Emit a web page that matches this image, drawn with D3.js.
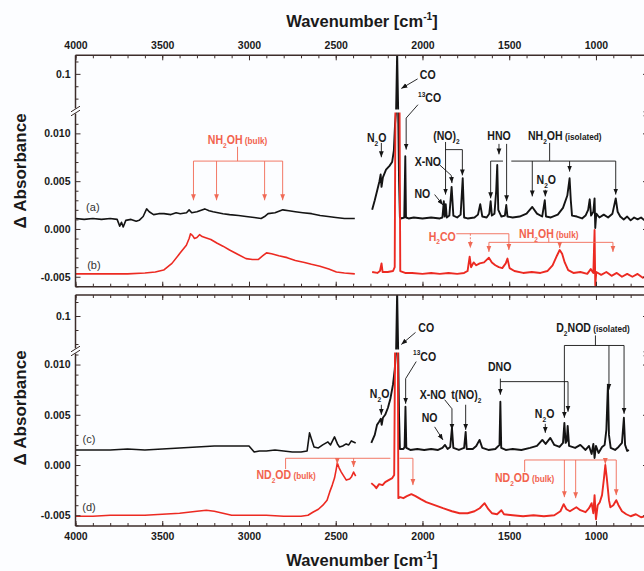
<!DOCTYPE html>
<html>
<head>
<meta charset="utf-8">
<script src="https://cdn.jsdelivr.net/npm/d3@7/dist/d3.min.js"></script>
<style>
  body { margin: 0; background: #fcfdff; }
  text { font-family: "Liberation Sans", Arial, Helvetica, sans-serif; }
</style>
</head>
<body>
<svg id="chart"></svg>
<script>
// ---- data (wavenumber cm-1, delta absorbance) ----
const xMajorTicks = [4000, 3500, 3000, 2500, 2000, 1500, 1000];
const xMinorTicks = d3.range(4000, 699, -100);
const yLowTicks = [-0.005, 0.000, 0.005, 0.010];
const yLowMinor = [-0.006, -0.004, -0.003, -0.002, -0.001, 0.001, 0.002, 0.003, 0.004, 0.006, 0.007, 0.008, 0.009, 0.011];
const yHighTicks = [0.1];
const yHighMinor = [0.06, 0.08, 0.12];

// (a) NH2OH sample, black, top panel
const specA1 = [[4000,0.0011],[3950,0.0010],[3900,0.0011],[3850,0.0010],[3800,0.0011],[3760,0.0010],[3745,0.0003],[3735,0.0007],[3725,0.0002],[3710,0.0009],[3680,0.0010],[3650,0.0008],[3633,0.0009],[3610,0.0013],[3590,0.0021],[3575,0.0018],[3550,0.0015],[3520,0.0016],[3490,0.0016],[3450,0.0015],[3420,0.0017],[3396,0.0016],[3360,0.0017],[3345,0.0020],[3330,0.0017],[3300,0.0018],[3255,0.0021],[3230,0.0019],[3207,0.0018],[3150,0.0016],[3112,0.0015],[3060,0.0014],[3017,0.0013],[2970,0.0012],[2930,0.0011],[2910,0.0013],[2890,0.0016],[2850,0.0017],[2805,0.0020],[2770,0.0019],[2733,0.0018],[2690,0.0017],[2639,0.0016],[2590,0.0014],[2544,0.0013],[2500,0.0012],[2450,0.0011],[2390,0.0011]];
const specA2 = [[2290,0.0020],[2275,0.0030],[2260,0.0041],[2248,0.0050],[2241,0.0057],[2236,0.0044],[2228,0.0054],[2210,0.0062],[2190,0.0066],[2175,0.0070],[2165,0.0082],[2158,0.0110],[2152,0.03],[2146,0.135],[2140,0.03],[2135,0.0050],[2130,0.0012],[2120,0.0011],[2105,0.0012],[2099,0.0076],[2095,0.0012],[2080,0.0011],[2050,0.0012],[2000,0.0011],[1950,0.0012],[1900,0.0011],[1885,0.0012],[1877,0.0029],[1872,0.0013],[1866,0.0026],[1860,0.0012],[1845,0.0014],[1832,0.0044],[1822,0.0014],[1800,0.0012],[1780,0.0015],[1768,0.0053],[1760,0.0012],[1740,0.0011],[1700,0.0012],[1680,0.0015],[1667,0.0026],[1655,0.0013],[1630,0.0012],[1615,0.0016],[1607,0.0029],[1600,0.0014],[1585,0.0016],[1575,0.0040],[1569,0.0067],[1563,0.0020],[1545,0.0013],[1525,0.0014],[1517,0.0025],[1510,0.0013],[1480,0.0012],[1440,0.0013],[1400,0.0016],[1367,0.0023],[1340,0.0016],[1310,0.0013],[1295,0.0030],[1288,0.0013],[1260,0.0012],[1220,0.0015],[1190,0.0022],[1165,0.0035],[1152,0.0053],[1145,0.0030],[1138,0.0014],[1110,0.0013],[1080,0.0011],[1060,0.0014],[1045,0.0020],[1036,0.0031],[1028,0.0014],[1015,0.0018],[1008,0.0032],[1004,0.0001],[998,0.0016],[980,0.0012],[955,0.0015],[930,0.0012],[905,0.0016],[886,0.0032],[875,0.0018],[860,0.0013],[840,0.0010],[820,0.0013],[800,0.0009],[780,0.0012],[760,0.0010],[740,0.0012],[720,0.0009],[700,0.0011]];

// (b) red, top panel
const specB1 = [[4000,-0.0047],[3900,-0.0047],[3800,-0.0047],[3700,-0.0047],[3600,-0.0046],[3540,-0.0045],[3492,-0.0043],[3444,-0.0036],[3396,-0.0025],[3361,-0.0017],[3345,-0.0010],[3337,-0.0005],[3325,-0.0007],[3314,-0.0010],[3300,-0.0009],[3285,-0.0006],[3270,-0.0008],[3254,-0.0009],[3220,-0.0011],[3183,-0.0015],[3150,-0.0018],[3112,-0.0022],[3060,-0.0027],[3017,-0.0031],[2980,-0.0032],[2947,-0.0032],[2920,-0.0028],[2899,-0.0025],[2870,-0.0026],[2828,-0.0028],[2780,-0.0030],[2733,-0.0033],[2680,-0.0035],[2640,-0.0037],[2591,-0.0039],[2540,-0.0042],[2496,-0.0045],[2450,-0.0046],[2390,-0.0047]];
const specB2 = [[2290,-0.0045],[2260,-0.0046],[2245,-0.0044],[2236,-0.0036],[2230,-0.0045],[2200,-0.0045],[2170,-0.0044],[2160,-0.0040],[2156,0.03],[2132,0.03],[2128,-0.0044],[2100,-0.0046],[2060,-0.0046],[2000,-0.0047],[1950,-0.0046],[1900,-0.0047],[1850,-0.0046],[1800,-0.0047],[1760,-0.0046],[1740,-0.0044],[1728,-0.0029],[1720,-0.0040],[1705,-0.0035],[1690,-0.0038],[1670,-0.0036],[1645,-0.0035],[1617,-0.0030],[1600,-0.0035],[1580,-0.0038],[1560,-0.0040],[1540,-0.0041],[1520,-0.0036],[1510,-0.0031],[1498,-0.0041],[1470,-0.0044],[1420,-0.0046],[1370,-0.0045],[1320,-0.0046],[1280,-0.0044],[1250,-0.0038],[1225,-0.0028],[1209,-0.0022],[1195,-0.0026],[1180,-0.0035],[1160,-0.0043],[1130,-0.0046],[1090,-0.0045],[1050,-0.0047],[1030,-0.0042],[1015,-0.0046],[1008,-0.0001],[1004,-0.0059],[998,-0.0045],[970,-0.0048],[940,-0.0045],[910,-0.0049],[880,-0.0046],[850,-0.0050],[820,-0.0047],[790,-0.0050],[760,-0.0047],[730,-0.0051],[700,-0.0048]];

// (c) ND2OD sample, black, bottom panel
const specC1 = [[4000,0.0015],[3900,0.0015],[3800,0.0015],[3700,0.0016],[3600,0.0015],[3500,0.0016],[3400,0.0017],[3300,0.0018],[3200,0.0019],[3100,0.0019],[3000,0.0019],[2970,0.0013],[2940,0.0014],[2900,0.0014],[2850,0.0015],[2800,0.0014],[2750,0.0013],[2700,0.0013],[2665,0.0014],[2651,0.0032],[2640,0.0026],[2625,0.0018],[2600,0.0017],[2575,0.0020],[2545,0.0023],[2530,0.0020],[2507,0.0028],[2490,0.0021],[2478,0.0018],[2460,0.0019],[2440,0.0021],[2425,0.0020],[2410,0.0024],[2385,0.0022]];
const specC2 = [[2295,0.0022],[2275,0.0030],[2262,0.0040],[2250,0.0043],[2240,0.0046],[2235,0.0040],[2228,0.0047],[2215,0.0050],[2199,0.0057],[2185,0.0066],[2170,0.0080],[2160,0.0095],[2152,0.03],[2146,0.135],[2140,0.03],[2135,0.0050],[2130,0.0016],[2110,0.0016],[2103,0.0018],[2098,0.0058],[2093,0.0017],[2070,0.0015],[2030,0.0016],[1990,0.0015],[1950,0.0016],[1910,0.0015],[1885,0.0017],[1870,0.0020],[1855,0.0016],[1840,0.0018],[1830,0.0037],[1822,0.0017],[1790,0.0015],[1760,0.0017],[1751,0.0033],[1745,0.0016],[1710,0.0016],[1690,0.0019],[1671,0.0025],[1655,0.0017],[1620,0.0015],[1580,0.0016],[1556,0.0020],[1551,0.0063],[1546,0.0017],[1520,0.0015],[1480,0.0016],[1430,0.0015],[1380,0.0017],[1340,0.0019],[1309,0.0025],[1290,0.0021],[1263,0.0027],[1240,0.0020],[1210,0.0018],[1190,0.0022],[1182,0.0042],[1175,0.0022],[1168,0.0024],[1163,0.0039],[1155,0.0019],[1120,0.0017],[1090,0.0020],[1060,0.0015],[1040,0.0019],[1025,0.0011],[1015,0.0021],[1008,0.0007],[1000,0.0019],[985,0.0012],[965,0.0018],[950,0.0020],[940,0.0035],[931,0.0080],[925,0.0030],[915,0.0017],[890,0.0015],[870,0.0018],[850,0.0022],[839,0.0047],[832,0.0020],[820,0.0014],[810,0.0015]];

// (d) red, bottom panel
const specD1 = [[4000,-0.0051],[3900,-0.0051],[3800,-0.0050],[3700,-0.0050],[3600,-0.0050],[3500,-0.0049],[3400,-0.0048],[3300,-0.0046],[3246,-0.0045],[3200,-0.0046],[3150,-0.0048],[3100,-0.0050],[3000,-0.0050],[2900,-0.0050],[2800,-0.0051],[2700,-0.0051],[2660,-0.0050],[2632,-0.0047],[2600,-0.0044],[2574,-0.0040],[2550,-0.0035],[2535,-0.0027],[2520,-0.0020],[2507,-0.0013],[2497,-0.0004],[2491,0.0002],[2480,-0.0003],[2468,-0.0007],[2450,-0.0012],[2439,-0.0015],[2420,-0.0014],[2410,-0.0012],[2397,-0.0007],[2385,-0.0011]];
const specD2 = [[2295,-0.0018],[2275,-0.0021],[2266,-0.0023],[2250,-0.0019],[2230,-0.0020],[2215,-0.0017],[2195,-0.0015],[2174,-0.0013],[2163,-0.0010],[2158,0.03],[2142,0.03],[2139,-0.0033],[2128,-0.0032],[2110,-0.0033],[2090,-0.0031],[2064,-0.0029],[2040,-0.0031],[2010,-0.0034],[1978,-0.0037],[1930,-0.0040],[1882,-0.0043],[1830,-0.0046],[1786,-0.0048],[1740,-0.0048],[1700,-0.0046],[1670,-0.0043],[1642,-0.0038],[1620,-0.0044],[1600,-0.0048],[1570,-0.0049],[1545,-0.0045],[1530,-0.0049],[1480,-0.0050],[1420,-0.0051],[1360,-0.0050],[1300,-0.0051],[1240,-0.0050],[1205,-0.0046],[1186,-0.0039],[1170,-0.0044],[1150,-0.0046],[1113,-0.0042],[1090,-0.0045],[1060,-0.0047],[1040,-0.0043],[1025,-0.0038],[1015,-0.0048],[1008,-0.0030],[1000,-0.0054],[990,-0.0040],[978,-0.0037],[965,-0.0030],[955,-0.0015],[946,0.0000],[938,-0.0012],[925,-0.0035],[917,-0.0042],[900,-0.0040],[883,-0.0035],[870,-0.0040],[850,-0.0046],[825,-0.0049],[800,-0.0051],[770,-0.0049],[740,-0.0052],[700,-0.0050]];

// curve labels
const curveLabels = [
  { p: 0, w: 3900, v: 0.0023, text: "(a)" },
  { p: 0, w: 3894, v: -0.0038, text: "(b)" },
  { p: 1, w: 3922, v: 0.0026, text: "(c)" },
  { p: 1, w: 3922, v: -0.0042, text: "(d)" }
];

// assignment labels: "_x" subscript, "^{..}" superscript, "|" starts small text
const annoLabels = [
  { p: 0, w: 3066, v: 0.0093, s: "NH_2OH| (bulk)", c: "r" },
  { p: 0, w: 2264, v: 0.0095, s: "N_2O", c: "k" },
  { p: 0, w: 1970, v: 0.0161, s: "CO", c: "k" },
  { p: 0, w: 1959, v: 0.0137, s: "^{13}CO", c: "k" },
  { p: 0, w: 1862, v: 0.0097, s: "(NO)_2", c: "k" },
  { p: 0, w: 1969, v: 0.0070, s: "X-NO", c: "k" },
  { p: 0, w: 2001, v: 0.0037, s: "NO", c: "k" },
  { p: 0, w: 1559, v: 0.0097, s: "HNO", c: "k" },
  { p: 0, w: 1180, v: 0.0097, s: "NH_2OH| (isolated)", c: "k" },
  { p: 0, w: 1286, v: 0.0051, s: "N_2O", c: "k" },
  { p: 0, w: 1886, v: -0.0008, s: "H_2CO", c: "r" },
  { p: 0, w: 1272, v: -0.0005, s: "NH_2OH| (bulk)", c: "r" },
  { p: 1, w: 1978, v: 0.0136, s: "CO", c: "k" },
  { p: 1, w: 1988, v: 0.0108, s: "^{13}CO", c: "k" },
  { p: 1, w: 2247, v: 0.0071, s: "N_2O", c: "k" },
  { p: 1, w: 1959, v: 0.0047, s: "NO", c: "k" },
  { p: 1, w: 1940, v: 0.0070, s: "X-NO", c: "k" },
  { p: 1, w: 1747, v: 0.0070, s: "t(NO)_2", c: "k" },
  { p: 1, w: 1555, v: 0.0098, s: "DNO", c: "k" },
  { p: 1, w: 1296, v: 0.0051, s: "N_2O", c: "k" },
  { p: 1, w: 1017, v: 0.0136, s: "D_2NOD| (isolated)", c: "k" },
  { p: 1, w: 2786, v: -0.0010, s: "ND_2OD| (bulk)", c: "r" },
  { p: 1, w: 1411, v: -0.0013, s: "ND_2OD| (bulk)", c: "r" }
];

// leader lines and arrows, [wavenumber, value on the lower axis scale]
const annoLines = [
  // top, red NH2OH bulk (left)
  { p: 0, c: "r", pts: [[3066,0.0086],[3066,0.0071]] },
  { p: 0, c: "r", pts: [[3320,0.0071],[2806,0.0071]] },
  { p: 0, c: "r", a: 1, pts: [[3320,0.0071],[3320,0.0030]] },
  { p: 0, c: "r", a: 1, pts: [[3187,0.0071],[3187,0.0030]] },
  { p: 0, c: "r", a: 1, pts: [[2910,0.0071],[2910,0.0030]] },
  { p: 0, c: "r", a: 1, pts: [[2806,0.0071],[2806,0.0030]] },
  // top, black
  { p: 0, c: "k", a: 1, pts: [[2237,0.0090],[2237,0.0075]] },
  { p: 0, c: "k", a: 1, pts: [[2028,0.0157],[2122,0.0147]] },
  { p: 0, c: "k", a: 1, pts: [[2026,0.0130],[2094,0.0116],[2094,0.0083]] },
  { p: 0, c: "k", a: 1, pts: [[1867,0.0091],[1867,0.0036]] },
  { p: 0, c: "k", pts: [[1867,0.0083],[1770,0.0083]] },
  { p: 0, c: "k", a: 1, pts: [[1770,0.0083],[1770,0.0056]] },
  { p: 0, c: "k", a: 1, pts: [[1901,0.0067],[1834,0.0056],[1830,0.0048]] },
  { p: 0, c: "k", a: 1, pts: [[1930,0.0036],[1882,0.0025]] },
  { p: 0, c: "k", a: 1, pts: [[1559,0.0089],[1559,0.0078]] },
  { p: 0, c: "k", pts: [[1607,0.0071],[1536,0.0071]] },
  { p: 0, c: "k", a: 1, pts: [[1607,0.0071],[1607,0.0032]] },
  { p: 0, c: "k", a: 1, pts: [[1515,0.0089],[1515,0.0029]] },
  { p: 0, c: "k", pts: [[1267,0.0090],[1267,0.0071]] },
  { p: 0, c: "k", pts: [[1488,0.0071],[886,0.0071]] },
  { p: 0, c: "k", a: 1, pts: [[1367,0.0071],[1367,0.0034]] },
  { p: 0, c: "k", a: 1, pts: [[1152,0.0071],[1152,0.0060]] },
  { p: 0, c: "k", a: 1, pts: [[886,0.0071],[886,0.0036]] },
  { p: 0, c: "k", a: 1, pts: [[1292,0.0041],[1292,0.0034]] },
  // top, red H2CO and NH2OH bulk (right)
  { p: 0, c: "r", pts: [[1805,-0.0005],[1502,-0.0005]] },
  { p: 0, c: "r", a: 1, d: 1, pts: [[1724,-0.0005],[1724,-0.0020]] },
  { p: 0, c: "r", a: 1, pts: [[1502,-0.0005],[1502,-0.0022]] },
  { p: 0, c: "r", pts: [[1272,-0.0009],[1272,-0.0014]] },
  { p: 0, c: "r", pts: [[1617,-0.0014],[902,-0.0014]] },
  { p: 0, c: "r", a: 1, pts: [[1617,-0.0014],[1617,-0.0024]] },
  { p: 0, c: "r", a: 1, pts: [[1209,-0.0014],[1209,-0.0020]] },
  { p: 0, c: "r", a: 1, pts: [[902,-0.0014],[902,-0.0024]] },
  // bottom, black
  { p: 1, c: "k", a: 1, pts: [[2040,0.0132],[2122,0.0120]] },
  { p: 1, c: "k", a: 1, pts: [[2036,0.0103],[2097,0.0086],[2097,0.0061]] },
  { p: 1, c: "k", a: 1, pts: [[2237,0.0060],[2237,0.0050]] },
  { p: 1, c: "k", a: 1, pts: [[1930,0.0038],[1882,0.0025]] },
  { p: 1, c: "k", a: 1, pts: [[1872,0.0065],[1830,0.0056],[1830,0.0035]] },
  { p: 1, c: "k", a: 1, pts: [[1751,0.0060],[1751,0.0035]] },
  { p: 1, c: "k", a: 1, pts: [[1551,0.0086],[1551,0.0070]] },
  { p: 1, c: "k", a: 1, pts: [[1551,0.0083],[1161,0.0083],[1161,0.0053]] },
  { p: 1, c: "k", a: 1, pts: [[1292,0.0041],[1292,0.0032]] },
  { p: 1, c: "k", pts: [[1003,0.0129],[1003,0.0119]] },
  { p: 1, c: "k", pts: [[1182,0.0119],[838,0.0119]] },
  { p: 1, c: "k", a: 1, pts: [[1182,0.0119],[1182,0.0047]] },
  { p: 1, c: "k", a: 1, pts: [[925,0.0119],[925,0.0075]] },
  { p: 1, c: "k", a: 1, pts: [[838,0.0119],[838,0.0051]] },
  // bottom, red ND2OD bulk
  { p: 1, c: "r", pts: [[2789,-0.0004],[2789,0.00067]] },
  { p: 1, c: "r", pts: [[2789,0.00067],[2185,0.00067]] },
  { p: 1, c: "r", pts: [[2132,0.00067],[2055,0.00067]] },
  { p: 1, c: "r", a: 1, pts: [[2491,0.00067],[2491,0.0001]] },
  { p: 1, c: "r", a: 1, pts: [[2397,0.00067],[2397,-0.0002]] },
  { p: 1, c: "r", a: 1, pts: [[2055,0.00067],[2055,-0.0020]] },
  { p: 1, c: "r", pts: [[1411,-0.0007],[1411,0.0005]] },
  { p: 1, c: "r", pts: [[1411,0.0005],[883,0.0005]] },
  { p: 1, c: "r", a: 1, pts: [[1182,0.0005],[1182,-0.0032]] },
  { p: 1, c: "r", a: 1, pts: [[1117,0.0005],[1117,-0.0033]] },
  { p: 1, c: "r", a: 1, pts: [[946,0.0005],[946,0.0001]] },
  { p: 1, c: "r", a: 1, pts: [[883,0.0005],[883,-0.0030]] }
];

// ---- layout ----
const W = 644, H = 571;
const BLACK = "#141414", RED = "#ec2a22", RED_TXT = "#f2634e", RED_LN = "#f06a56", AXIS = "#3c2d2b";

const panels = [
  { top: 55.3, brk: 111, bottom: 286.7, low: [-0.00604, 0.01234], high: [0.04, 0.13],
    series: [[specA1, specA2, BLACK], [specB1, specB2, RED]], labelsTop: true },
  { top: 295, brk: 351, bottom: 526, low: [-0.00607, 0.01135], high: [0.05, 0.13],
    series: [[specC1, specC2, BLACK], [specD1, specD2, RED]], labelsTop: false }
];

const x = d3.scaleLinear().domain([4000, 700]).range([75.5, 648]);

const svg = d3.select("#chart").attr("width", W).attr("height", H);
svg.append("rect").attr("width", W).attr("height", H).attr("fill", "#fcfdff");

const defs = svg.append("defs");
[["k", BLACK], ["r", RED_LN]].forEach(([id, col]) => {
  defs.append("marker")
    .attr("id", "ah-" + id)
    .attr("viewBox", "0 -3 6 6")
    .attr("refX", 6).attr("refY", 0)
    .attr("markerWidth", 6).attr("markerHeight", 6)
    .attr("markerUnits", "userSpaceOnUse")
    .attr("orient", "auto")
    .append("path").attr("d", "M0,-2.4L6,0L0,2.4Z").attr("fill", col);
});

function tokenize(str) {
  const out = [];
  let buf = "", small = false;
  const flush = () => { if (buf) out.push({ t: buf, k: small ? "small" : "n" }); buf = ""; };
  for (let i = 0; i < str.length; i++) {
    const ch = str[i];
    if (ch === "_") { flush(); out.push({ t: str[++i], k: "sub" }); }
    else if (ch === "^") {
      flush();
      const m = str.slice(i + 1).match(/^\{([^}]*)\}/);
      out.push({ t: m[1], k: "sup" });
      i += m[0].length;
    }
    else if (ch === "|") { flush(); small = true; }
    else buf += ch;
  }
  flush();
  return out;
}

function addRich(text, str, size) {
  let shift = 0;
  tokenize(str).forEach(tok => {
    const target = tok.k === "sub" ? size * 0.32 : tok.k === "sup" ? -size * 0.42 : 0;
    const fs = tok.k === "n" ? size : tok.k === "small" ? size * 0.78 : size * 0.62;
    text.append("tspan").attr("dy", target - shift).attr("font-size", fs).text(tok.t);
    shift = target;
  });
}

panels.forEach((p, pi) => {
  p.yLow = d3.scaleLinear().domain(p.low).range([p.bottom, p.brk]);
  p.yHigh = d3.scaleLinear().domain(p.high).range([p.brk, p.top]);
  p.y = v => v <= p.low[1] ? p.yLow(v) : (v >= p.high[0] ? p.yHigh(v) : p.brk);

  const x0 = x.range()[0], x1 = x.range()[1];
  const clipId = "clip" + pi;
  defs.append("clipPath").attr("id", clipId)
    .append("rect").attr("x", x0).attr("y", p.top).attr("width", x1 - x0).attr("height", p.bottom - p.top);

  const g = svg.append("g");
  const plot = g.append("g").attr("clip-path", `url(#${clipId})`);

  const line = d3.line().x(d => x(d[0])).y(d => p.y(d[1]));
  p.series.forEach(([seg1, seg2, col]) => {
    [[seg1, 1.6], [seg2, 1.9]].forEach(([seg, sw]) => {
      plot.append("path").datum(seg)
        .attr("d", line)
        .attr("fill", "none")
        .attr("stroke", col)
        .attr("stroke-width", sw)
        .attr("stroke-linejoin", "round");
    });
  });

  // white gap where the CO band crosses the axis break
  plot.append("rect")
    .attr("x", x(2170)).attr("width", x(2120) - x(2170))
    .attr("y", p.brk - 1.5).attr("height", 3)
    .attr("fill", "#fcfdff");

  // x axes (ticks inward)
  g.append("g").attr("transform", `translate(0,${p.top})`)
    .call(d3.axisTop(x).tickValues(xMinorTicks).tickSize(-3).tickFormat(""));
  g.append("g").attr("transform", `translate(0,${p.top})`)
    .call(d3.axisTop(x).tickValues(xMajorTicks).tickSize(-5).tickPadding(6.5)
      .tickFormat(p.labelsTop ? d3.format("d") : ""));
  g.append("g").attr("transform", `translate(0,${p.bottom})`)
    .call(d3.axisBottom(x).tickValues(xMinorTicks).tickSize(-3).tickFormat(""));
  g.append("g").attr("transform", `translate(0,${p.bottom})`)
    .call(d3.axisBottom(x).tickValues(xMajorTicks).tickSize(-5).tickPadding(7)
      .tickFormat(p.labelsTop ? "" : d3.format("d")));

  // y axes, left and right, both segments
  [[x0, d3.axisLeft, -1], [x1, d3.axisRight, 1]].forEach(([xp, axisFn, side]) => {
    const lab = side < 0;
    g.append("g").attr("transform", `translate(${xp},0)`)
      .call(axisFn(p.yLow).tickValues(yLowMinor).tickSize(-3).tickFormat(""));
    g.append("g").attr("transform", `translate(${xp},0)`)
      .call(axisFn(p.yLow).tickValues(yLowTicks).tickSize(-5).tickPadding(5)
        .tickFormat(lab ? (d => d.toFixed(3)) : ""));
    g.append("g").attr("transform", `translate(${xp},0)`)
      .call(axisFn(p.yHigh).tickValues(yHighMinor).tickSize(-3).tickFormat(""));
    g.append("g").attr("transform", `translate(${xp},0)`)
      .call(axisFn(p.yHigh).tickValues(yHighTicks).tickSize(-5).tickPadding(5)
        .tickFormat(lab ? (d => String(d)) : ""));
  });

  g.selectAll(".domain").remove();
  g.selectAll(".tick line").attr("stroke", AXIS).attr("stroke-width", 1);
  g.selectAll(".tick text")
    .attr("fill", "#1a1a1a").attr("font-size", 10.5).attr("font-weight", "bold")
    .attr("font-family", '"Liberation Sans", Arial, sans-serif');

  // frame with break on the vertical sides
  const fr = g.append("g").attr("stroke", AXIS).attr("stroke-width", 1.5).attr("fill", "none");
  fr.append("line").attr("x1", x0).attr("x2", x1).attr("y1", p.top).attr("y2", p.top);
  fr.append("line").attr("x1", x0).attr("x2", x1).attr("y1", p.bottom).attr("y2", p.bottom);
  [x0, x1].forEach(xp => {
    fr.append("line").attr("x1", xp).attr("x2", xp).attr("y1", p.top).attr("y2", p.brk - 2.5);
    fr.append("line").attr("x1", xp).attr("x2", xp).attr("y1", p.brk + 2.5).attr("y2", p.bottom);
    [-2, 2].forEach(off => {
      fr.append("line")
        .attr("x1", xp - 4.5).attr("y1", p.brk + off + 2.8)
        .attr("x2", xp + 4.5).attr("y2", p.brk + off - 2.8)
        .attr("stroke-width", 1);
    });
  });

  // leader lines
  const an = g.append("g");
  const aLine = d3.line().x(d => x(d[0])).y(d => p.yLow(d[1]));
  annoLines.filter(l => l.p === pi).forEach(l => {
    const path = an.append("path").datum(l.pts)
      .attr("d", aLine)
      .attr("fill", "none")
      .attr("stroke", l.c === "r" ? RED_LN : BLACK)
      .attr("stroke-width", 0.9);
    if (l.d) path.attr("stroke-dasharray", "2,1.5");
    if (l.a) path.attr("marker-end", `url(#ah-${l.c})`);
  });

  annoLabels.filter(l => l.p === pi).forEach(l => {
    const t = an.append("text")
      .attr("transform", `translate(${x(l.w)},${p.yLow(l.v) + 4}) scale(0.88,1)`)
      .attr("text-anchor", "middle")
      .attr("font-weight", "bold")
      .attr("fill", l.c === "r" ? RED_TXT : "#1a1a1a");
    addRich(t, l.s, 12);
  });

  curveLabels.filter(l => l.p === pi).forEach(l => {
    an.append("text")
      .attr("x", x(l.w)).attr("y", p.yLow(l.v) + 4)
      .attr("text-anchor", "middle")
      .attr("font-size", 11)
      .attr("fill", "#333")
      .text(l.text);
  });

  // y axis title
  svg.append("text")
    .attr("transform", `translate(26,${pi === 0 ? 171 : 408}) rotate(-90)`)
    .attr("text-anchor", "middle")
    .attr("font-size", 17)
    .attr("font-weight", "bold")
    .attr("fill", "#1a1a1a")
    .text("\u0394 Absorbance");
});

// x axis titles
[27, 566].forEach(yy => {
  const t = svg.append("text")
    .attr("x", 362).attr("y", yy)
    .attr("text-anchor", "middle")
    .attr("font-weight", "bold")
    .attr("fill", "#1a1a1a");
  addRich(t, "Wavenumber [cm^{-1}]", 16.5);
});
</script>
</body>
</html>
